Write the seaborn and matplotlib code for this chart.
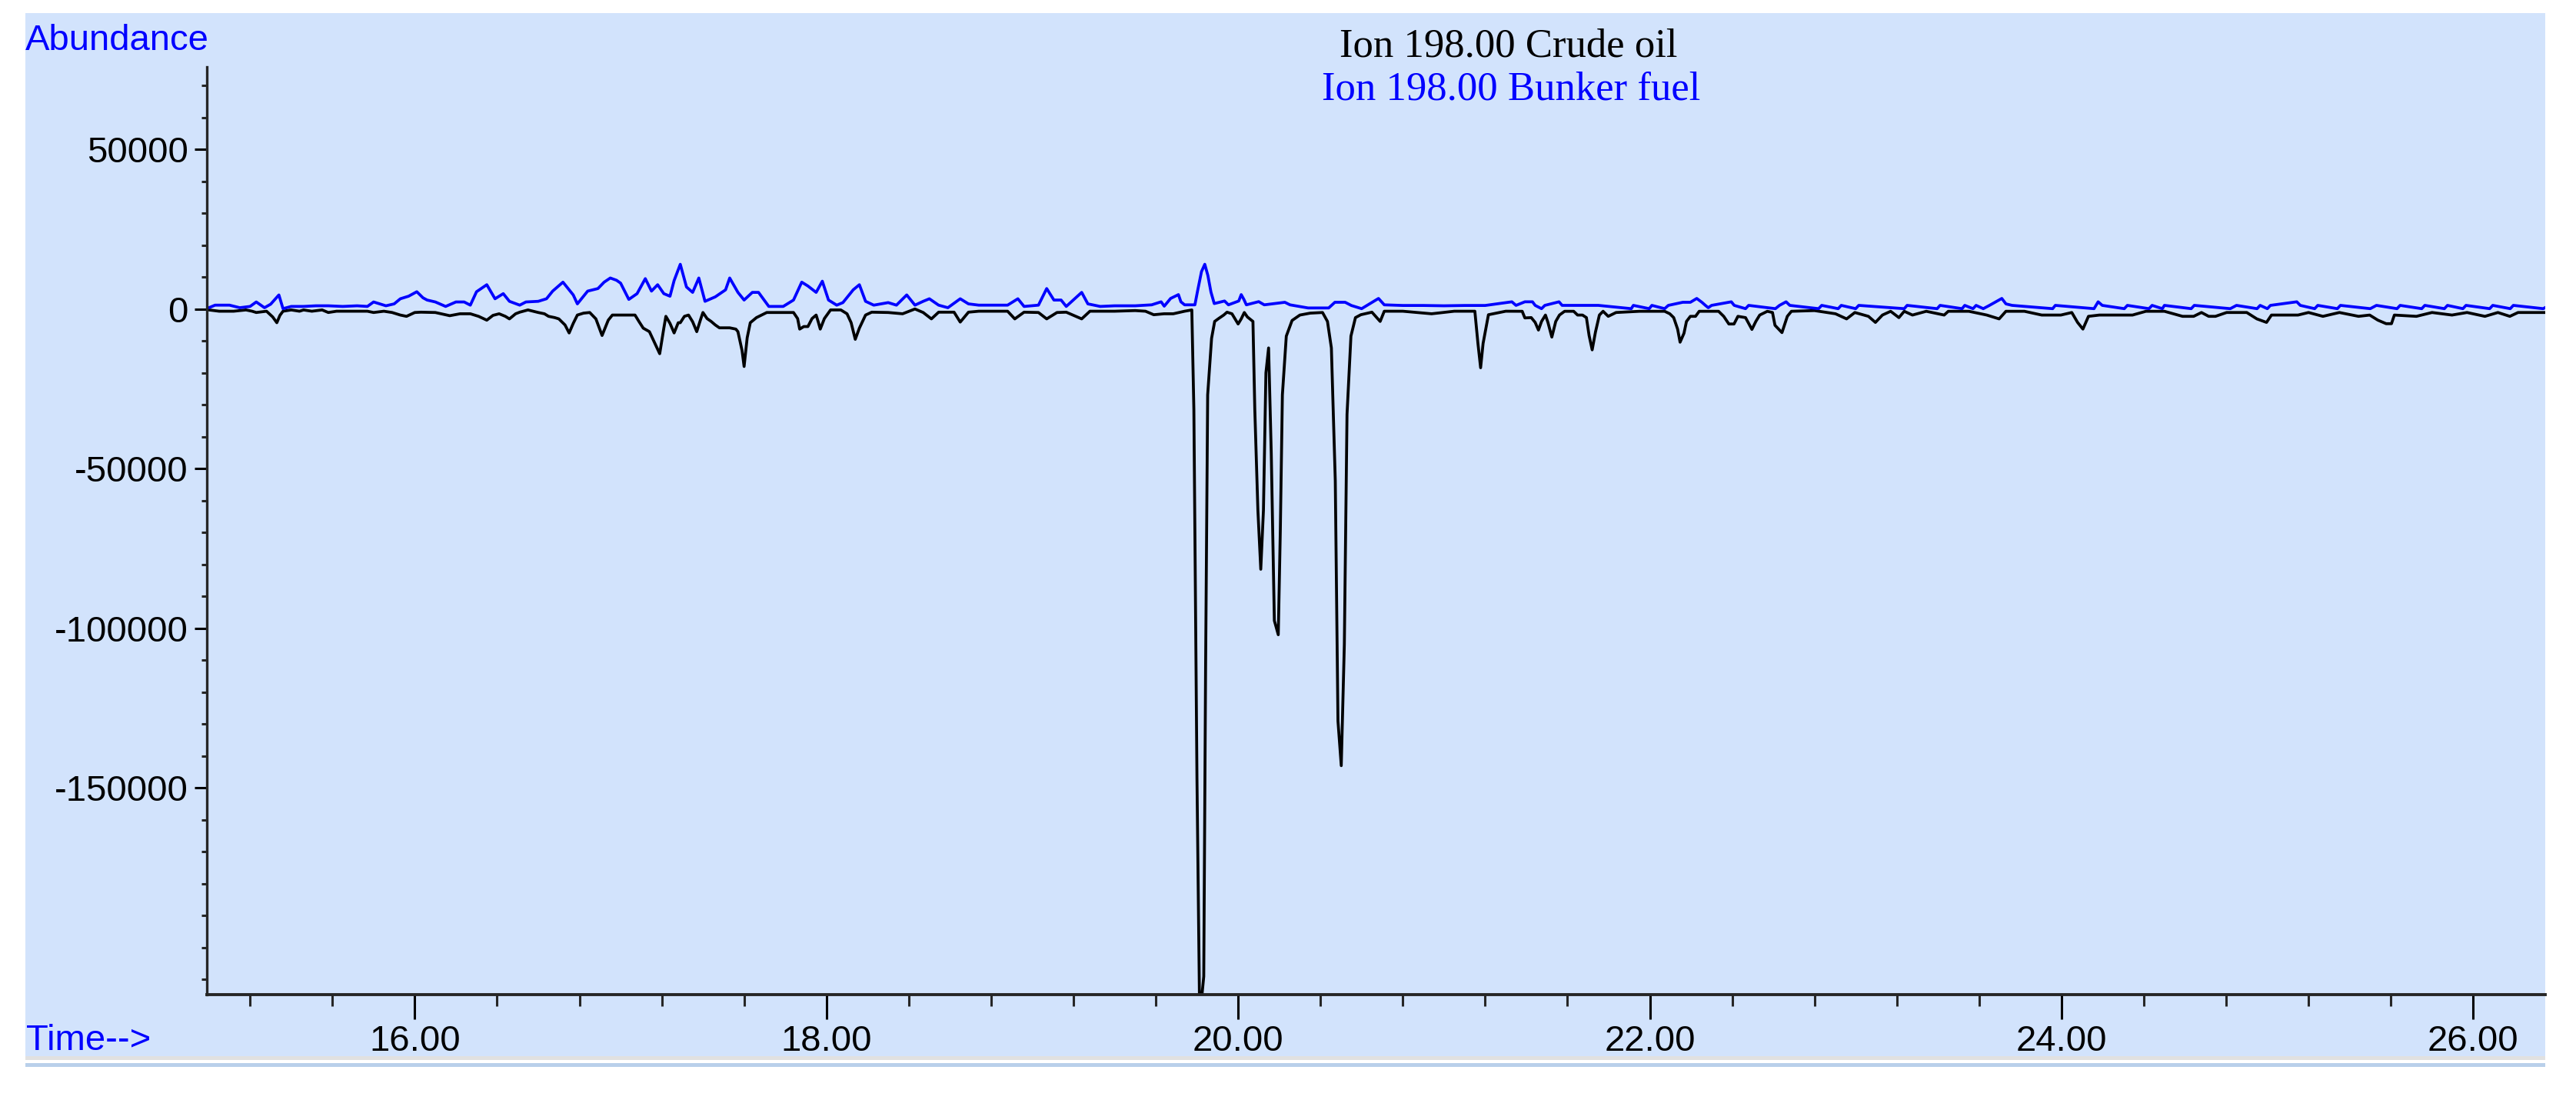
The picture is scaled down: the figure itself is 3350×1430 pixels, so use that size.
import matplotlib
matplotlib.use("Agg")
import matplotlib.pyplot as plt
from matplotlib import font_manager as fm
from matplotlib.patches import Rectangle
from matplotlib.ticker import FixedLocator, MultipleLocator, FuncFormatter
import seaborn as sns
import pandas as pd

# ---------------- data ----------------
crude_time = [15.00, 15.05, 15.12, 15.18, 15.21, 15.23, 15.28, 15.31, 15.33, 15.345, 15.36, 15.40, 15.44, 15.46, 15.50,
              15.55, 15.58, 15.62, 15.70, 15.77, 15.80, 15.85, 15.89, 15.93, 15.96, 16.00, 16.03, 16.10, 16.17, 16.22,
              16.27, 16.31, 16.35, 16.38, 16.41, 16.44, 16.46, 16.49, 16.51, 16.55, 16.60, 16.63, 16.65, 16.68, 16.70,
              16.73, 16.75, 16.77, 16.79, 16.82, 16.85, 16.88, 16.91, 16.94, 16.96, 17.02, 17.07, 17.09, 17.11, 17.14,
              17.19, 17.21, 17.22, 17.24, 17.26, 17.28, 17.29, 17.31, 17.33, 17.35, 17.37, 17.39, 17.40, 17.42, 17.44,
              17.46, 17.48, 17.51, 17.53, 17.56, 17.57, 17.59, 17.60, 17.615, 17.63, 17.66, 17.71, 17.78, 17.84, 17.86,
              17.87, 17.89, 17.91, 17.93, 17.95, 17.96, 17.97, 17.99, 18.02, 18.07, 18.10, 18.12, 18.14, 18.16, 18.19,
              18.22, 18.30, 18.37, 18.43, 18.47, 18.51, 18.545, 18.62, 18.65, 18.69, 18.74, 18.88, 18.915, 18.96, 19.03,
              19.07, 19.12, 19.165, 19.24, 19.28, 19.40, 19.50, 19.55, 19.59, 19.64, 19.685, 19.74, 19.775, 19.785, 19.80,
              19.812, 19.824, 19.833, 19.842, 19.852, 19.871, 19.886, 19.905, 19.93, 19.946, 19.97, 20.00, 20.015, 20.03,
              20.045, 20.072, 20.081, 20.096, 20.110, 20.123, 20.135, 20.148, 20.161, 20.176, 20.195, 20.205, 20.215,
              20.234, 20.262, 20.30, 20.35, 20.41, 20.434, 20.453, 20.472, 20.485, 20.501, 20.516, 20.529, 20.548, 20.57,
              20.596, 20.65, 20.69, 20.71, 20.80, 20.94, 21.05, 21.15, 21.165, 21.178, 21.19, 21.216, 21.30, 21.38,
              21.393, 21.424, 21.443, 21.459, 21.474, 21.493, 21.505, 21.524, 21.543, 21.561, 21.586, 21.63, 21.649,
              21.673, 21.692, 21.705, 21.72, 21.736, 21.755, 21.773, 21.798, 21.836, 21.95, 22.072, 22.097, 22.116,
              22.135, 22.147, 22.166, 22.178, 22.197, 22.222, 22.24, 22.334, 22.359, 22.384, 22.409, 22.428, 22.465,
              22.496, 22.515, 22.534, 22.571, 22.596, 22.608, 22.642, 22.668, 22.688, 22.80, 22.902, 22.956, 22.996,
              23.062, 23.096, 23.13, 23.17, 23.21, 23.236, 23.276, 23.343, 23.43, 23.45, 23.55, 23.637, 23.697, 23.73,
              23.82, 23.904, 23.997, 24.05, 24.078, 24.104, 24.131, 24.184, 24.26, 24.345, 24.41, 24.50, 24.588, 24.642,
              24.68, 24.715, 24.748, 24.802, 24.90, 24.949, 24.996, 25.02, 25.08, 25.149, 25.20, 25.27, 25.35, 25.443,
              25.497, 25.537, 25.577, 25.603, 25.617, 25.724, 25.80, 25.897, 25.97, 26.057, 26.12, 26.178, 26.218,
              26.30, 26.37]
crude_abundance = [-300, -700, -700, -300, -700, -1100, -700, -2500, -4300, -2000, -700, -300, -700, -300, -700,
                   -300, -1100, -700, -700, -700, -1100, -700, -1100, -1900, -2300, -1100, -1000, -1100, -2100, -1500,
                   -1500, -2300, -3500, -2000, -1500, -2300, -3100, -1500, -1000, -300, -1100, -1500, -2300, -2700, -3100,
                   -5000, -7500, -4500, -1900, -1300, -1100, -3100, -8300, -3500, -1900, -1900, -1900, -4000, -6000, -7100,
                   -14000, -6000, -2300, -4500, -7500, -4300, -4300, -2300, -1900, -4000, -7100, -3000, -1100, -3000, -3900,
                   -5000, -5900, -5900, -5900, -6300, -7100, -13000, -18000, -9000, -4300, -2700, -1100, -1100, -1100, -3000,
                   -6300, -5500, -5500, -3000, -1900, -4000, -6300, -3000, -300, -300, -1500, -4300, -9500, -6000, -1900,
                   -1000, -1100, -1500, 0, -1100, -3100, -1000, -1000, -4100, -1000, -700, -700, -3100, -1000, -1100,
                   -3100, -1100, -1000, -3100, -700, -700, -500, -700, -1800, -1500, -1500, -700, -300, -31500, -146800,
                   -215000, -215000, -209000, -112000, -26900, -9200, -3900, -3000, -1900, -1000, -1500, -4700, -3100, -1100,
                   -2500, -3900, -31500, -63000, -81500, -63000, -20000, -12200, -45300, -97600, -102000, -69200, -26900,
                   -8500, -3600, -1900, -1300, -1100, -3900, -12200, -53800, -129000, -143000, -105000, -33000, -8500, -2700,
                   -1800, -1000, -3900, -700, -700, -1500, -700, -700, -10800, -18400, -10800, -1800, -700, -720,
                   -2800, -2700, -4200, -6600, -3900, -1900, -4200, -8800, -3900, -1900, -720, -720, -1900,
                   -1900, -2700, -8300, -12800, -7200, -1900, -720, -2300, -1100, -720, -720, -1500, -2700,
                   -6300, -10400, -7600, -3900, -2300, -2300, -720, -720, -2300, -4700, -4700, -2300, -2700,
                   -6400, -3900, -1900, -720, -1100, -5100, -7400, -2300, -720, -500, -1500, -3100, -1100,
                   -2300, -4200, -1900, -720, -2700, -720, -1900, -720, -1900, -720, -720, -1900, -3100, -720,
                   -720, -1900, -1900, -1100, -4200, -6300, -2300, -1900, -1900, -1900, -720, -720, -2300, -2300,
                   -1100, -2300, -2300, -1100, -1100, -3100, -4200, -1900, -1900, -1900, -1100, -2300, -1100, -2300,
                   -1900, -3500, -4600, -4600, -1900, -2300, -1100, -1900, -1100, -2300, -1100, -2300, -1100,
                   -1100, -1100]

bunker_time = [15.00, 15.03, 15.10, 15.15, 15.20, 15.23, 15.27, 15.30, 15.34, 15.36, 15.40, 15.46, 15.52, 15.58, 15.65,
               15.72, 15.77, 15.80, 15.86, 15.90, 15.93, 15.97, 16.01, 16.04, 16.06, 16.10, 16.15, 16.20, 16.24, 16.27,
               16.30, 16.35, 16.39, 16.43, 16.46, 16.51, 16.54, 16.60, 16.64, 16.67, 16.72, 16.75, 16.77, 16.79, 16.84,
               16.89, 16.92, 16.95, 16.98, 17.00, 17.04, 17.08, 17.12, 17.15, 17.18, 17.21, 17.24, 17.26, 17.29, 17.32,
               17.35, 17.38, 17.41, 17.46, 17.51, 17.53, 17.57, 17.60, 17.64, 17.67, 17.72, 17.79, 17.84, 17.88, 17.91,
               17.95, 17.98, 18.01, 18.05, 18.08, 18.13, 18.16, 18.19, 18.23, 18.30, 18.34, 18.39, 18.43, 18.47, 18.50,
               18.545, 18.59, 18.65, 18.69, 18.74, 18.80, 18.88, 18.93, 18.96, 19.03, 19.07, 19.105, 19.14, 19.165,
               19.24, 19.27, 19.33, 19.40, 19.50, 19.58, 19.626, 19.641, 19.672, 19.71, 19.722, 19.74, 19.79, 19.803,
               19.822, 19.838, 19.853, 19.868, 19.884, 19.934, 19.953, 20.003, 20.015, 20.028, 20.04, 20.10, 20.127,
               20.227, 20.252, 20.34, 20.377, 20.44, 20.47, 20.52, 20.55, 20.60, 20.682, 20.71, 20.80, 20.90, 21.00,
               21.10, 21.20, 21.33, 21.35, 21.393, 21.43, 21.443, 21.474, 21.49, 21.559, 21.574, 21.75, 21.91, 21.92,
               21.997, 22.01, 22.072, 22.09, 22.16, 22.197, 22.228, 22.253, 22.27, 22.284, 22.30, 22.396, 22.41,
               22.465, 22.48, 22.61, 22.63, 22.662, 22.68, 22.82, 22.835, 22.915, 22.93, 23.00, 23.015, 23.236, 23.25,
               23.396, 23.41, 23.517, 23.53, 23.57, 23.585, 23.62, 23.65, 23.677, 23.71, 23.73, 23.76, 23.957, 23.97,
               24.158, 24.178, 24.198, 24.305, 24.32, 24.425, 24.44, 24.49, 24.50, 24.63, 24.645, 24.82, 24.85, 24.95,
               24.965, 25.00, 25.015, 25.143, 25.16, 25.23, 25.245, 25.34, 25.355, 25.50, 25.53, 25.63, 25.645, 25.75,
               25.765, 25.86, 25.875, 25.95, 25.965, 26.08, 26.095, 26.18, 26.195, 26.34, 26.37]
bunker_abundance = [400, 1200, 1200, 400, 800, 2200, 400, 1500, 4400, 100, 800, 800, 1000, 1000, 800,
                    1000, 800, 2200, 1000, 1600, 3200, 4000, 5400, 3500, 2800, 2200, 800, 2200, 2200, 1200,
                    5400, 7600, 3200, 4800, 2400, 1200, 2200, 2400, 3200, 5600, 8400, 6000, 4400, 1600, 5600,
                    6400, 8400, 9700, 9000, 8100, 3000, 4800, 9500, 5600, 7600, 4800, 4000, 8900, 14000, 6900,
                    5200, 9700, 2400, 3800, 6000, 9700, 5200, 2800, 5200, 5200, 800, 800, 2800, 8400, 7200,
                    5200, 8700, 2800, 1200, 2000, 6000, 7600, 2400, 1200, 2000, 1200, 4400, 1200, 2400, 3200,
                    1200, 400, 3200, 1600, 1200, 1200, 1200, 3200, 800, 1200, 6400, 2800, 2800, 800,
                    5200, 1600, 800, 1000, 1000, 1300, 2250, 880, 3300, 4500, 2250, 1300, 1300, 5660,
                    11700, 14000, 10500, 5300, 1700, 2500, 1300, 2500, 4500, 3000, 1300, 2300, 1300,
                    2100, 1300, 320, 320, 320, 2100, 2100, 1100, 100, 3300, 1300, 1100, 1100, 1000,
                    1100, 1100, 2250, 1130, 2250, 2250, 1130, 100, 1130, 2250, 1130, 1130, 100, 1130,
                    100, 1130, 100, 1130, 2100, 2100, 3300, 2100, 1130, 400, 1130, 2250, 1130,
                    100, 1130, 100, 1130, 2250, 1130, 100, 1130, 100, 1130, 100, 1130, 100, 1130,
                    100, 1130, 100, 1130, 100, 1130, 100, 1130, 2100, 3300, 1600, 1130, 100, 1130,
                    100, 2250, 1130, 100, 1130, 100, 1130, 100, 1130, 100, 1130, 100, 1130, 100,
                    1130, 100, 1130, 2250, 1130, 100, 1130, 100, 1130, 100, 1130, 100, 1130, 100,
                    1130, 100, 1130, 100, 1130, 100, 1130, 100, 1130, 100, 1130]

series_names = ["Ion 198.00 Crude oil", "Ion 198.00 Bunker fuel"]
x_tick_values = [16, 18, 20, 22, 24, 26]
y_tick_values = [-150000, -100000, -50000, 0, 50000]

# ---------------- styling ----------------
sns.set_style("ticks")
avail = {f.name for f in fm.fontManager.ttflist}
sans = "Liberation Sans Narrow" if "Liberation Sans Narrow" in avail else (
    "Liberation Sans" if "Liberation Sans" in avail else "DejaVu Sans")
serif = "Liberation Serif" if "Liberation Serif" in avail else "DejaVu Serif"
plt.rcParams["font.family"] = [sans, "DejaVu Sans"]
plt.rcParams["axes.unicode_minus"] = False
LABEL_FS = 39 if sans == "Liberation Sans Narrow" else 34

BG = "#d2e3fc"
W, H = 3350, 1430
fig = plt.figure(figsize=(W / 100, H / 100), dpi=100, facecolor="white")

# light-blue panel plus the thin lines under it (behind the axes)
fig.patches.append(Rectangle((33 / W, 1 - 1373 / H), (3310 - 33) / W, (1373 - 17) / H,
                             transform=fig.transFigure, facecolor=BG, edgecolor="none", zorder=-10))
fig.patches.append(Rectangle((33 / W, 1 - 1378 / H), (3310 - 33) / W, 5 / H,
                             transform=fig.transFigure, facecolor="#e1e1e1", edgecolor="none", zorder=-10))
fig.patches.append(Rectangle((33 / W, 1 - 1387 / H), (3310 - 33) / W, 5 / H,
                             transform=fig.transFigure, facecolor="#b9d0ea", edgecolor="none", zorder=-10))

ax = fig.add_axes([269 / W, 1 - 1293 / H, (3310 - 269) / W, (1293 - 87) / H])
ax.set_facecolor("none")
ax.set_zorder(1)

df = pd.concat([
    pd.DataFrame({"time": crude_time, "abundance": crude_abundance, "series": series_names[0]}),
    pd.DataFrame({"time": bunker_time, "abundance": bunker_abundance, "series": series_names[1]}),
], ignore_index=True)

sns.lineplot(data=df, x="time", y="abundance", hue="series", hue_order=series_names,
             palette={series_names[0]: "#000000", series_names[1]: "#0000ff"},
             estimator=None, sort=False, legend=False, linewidth=2.7, ax=ax)

ax.set_xlim(14.99, 26.35)
ax.set_ylim(-214700, 75800)
ax.set_xlabel("")
ax.set_ylabel("")

for s in ["top", "right"]:
    ax.spines[s].set_visible(False)
ax.spines["left"].set_linewidth(2.4)
ax.spines["bottom"].set_linewidth(2.8)

ax.xaxis.set_major_locator(FixedLocator(x_tick_values))
ax.xaxis.set_minor_locator(MultipleLocator(0.4))
ax.xaxis.set_major_formatter(FuncFormatter(lambda v, p: f"{v:.2f}"))
ax.yaxis.set_major_locator(FixedLocator(y_tick_values))
ax.yaxis.set_minor_locator(MultipleLocator(10000))
ax.yaxis.set_major_formatter(FuncFormatter(lambda v, p: f"{v:.0f}"))

ax.tick_params(axis="x", which="major", direction="out", length=23, width=2.2, pad=5,
               labelsize=LABEL_FS, colors="black")
ax.tick_params(axis="x", which="minor", direction="out", length=11, width=2.2)
ax.tick_params(axis="y", which="major", direction="out", length=11.5, width=2.2, pad=6,
               labelsize=LABEL_FS, colors="black")
ax.tick_params(axis="y", which="minor", direction="out", length=5, width=2.2)

# texts
fig.text(33 / W, 1 - 65 / H, "Abundance", color="#0000ff", fontsize=LABEL_FS, ha="left", va="baseline")
fig.text(34 / W, 1 - 1365 / H, "Time-->", color="#0000ff", fontsize=LABEL_FS, ha="left", va="baseline")
fig.text(1962 / W, 1 - 73 / H, series_names[0], color="#000000", fontsize=38, ha="center",
         va="baseline", family=[serif, "DejaVu Serif"])
fig.text(1965 / W, 1 - 130 / H, series_names[1], color="#0000ff", fontsize=38, ha="center",
         va="baseline", family=[serif, "DejaVu Serif"])

fig.savefig("out.png", dpi=100, facecolor="white")
